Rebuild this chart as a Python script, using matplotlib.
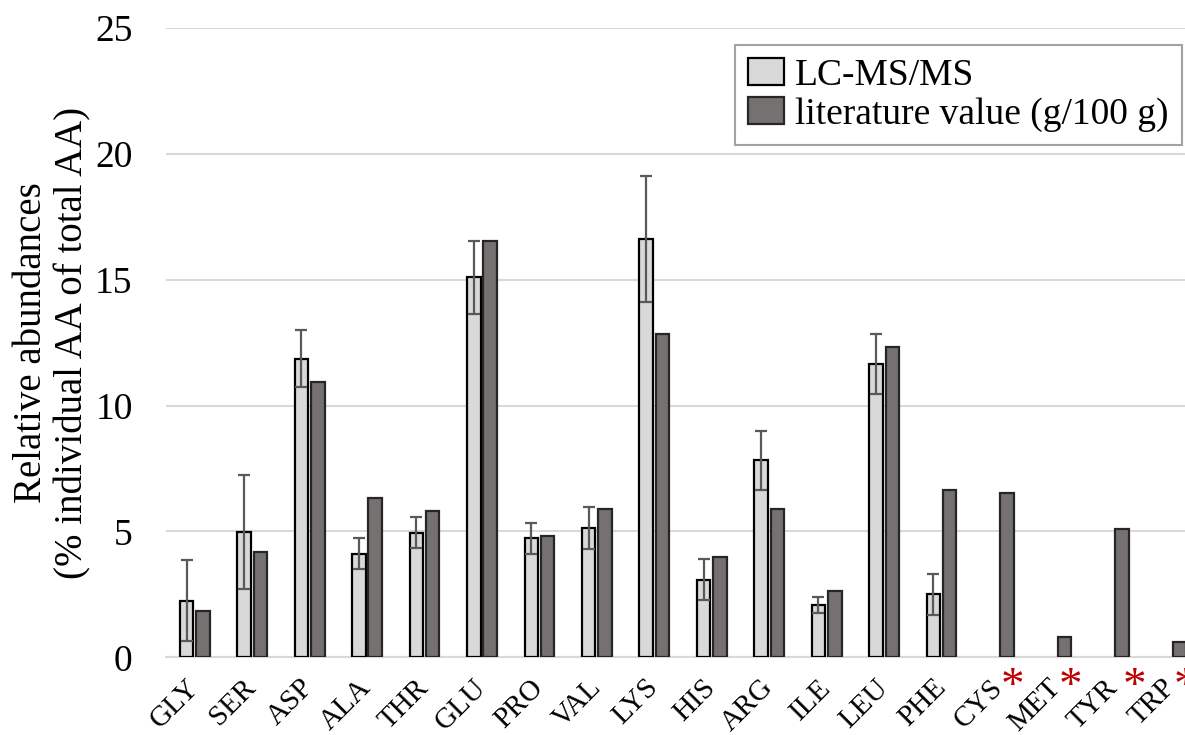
import matplotlib
matplotlib.use("Agg")
import matplotlib.pyplot as plt
from matplotlib.legend_handler import HandlerPatch
from matplotlib.patches import Rectangle
import numpy as np

amino_acids = ["GLY", "SER", "ASP", "ALA", "THR", "GLU", "PRO", "VAL", "LYS",
               "HIS", "ARG", "ILE", "LEU", "PHE", "CYS", "MET", "TYR", "TRP"]
lcms = [2.25, 4.98, 11.87, 4.11, 4.95, 15.09, 4.72, 5.15, 16.63,
        3.08, 7.83, 2.08, 11.67, 2.50, np.nan, np.nan, np.nan, np.nan]
lcms_err = [1.60, 2.27, 1.13, 0.62, 0.62, 1.45, 0.63, 0.83, 2.51,
            0.81, 1.18, 0.31, 1.19, 0.82, np.nan, np.nan, np.nan, np.nan]
literature = [1.84, 4.20, 10.93, 6.31, 5.82, 16.52, 4.81, 5.91, 12.83,
              4.00, 5.91, 2.62, 12.31, 6.63, 6.52, 0.79, 5.11, 0.61]
starred = ["CYS", "MET", "TYR", "TRP"]

plt.rcParams["font.family"] = ["Liberation Serif", "DejaVu Serif"]


def square_handle(legend, orig_handle, xdescent, ydescent, width, height, fontsize):
    # small square sitting at the right end of the handle box
    side = 0.28 * fontsize
    return Rectangle((-xdescent + width - side, -ydescent + (height - side) / 2),
                     side, side)


fig = plt.figure(figsize=(11.85, 7.35), dpi=100)
ax = fig.add_axes([0.1401, 0.1057, 0.8726, 0.8562])

x = np.arange(len(amino_acids))
w = 0.235
off = 0.142

ax.bar(x - off, lcms, w, color="#d9d9d9", edgecolor="black", linewidth=1.6,
       label="LC-MS/MS", zorder=3)
ax.bar(x + off, literature, w, color="#767171", edgecolor="#262626", linewidth=1.6,
       label="literature value (g/100 g)", zorder=3)
ax.errorbar(x - off, lcms, yerr=lcms_err, fmt="none", ecolor="#595959",
            elinewidth=1.6, capsize=4.2, capthick=1.6, zorder=4)

ax.set_xlim(-0.5, len(amino_acids) - 0.5)
ax.set_ylim(0, 25)
ax.set_yticks([0, 5, 10, 15, 20, 25])
ax.yaxis.grid(True, color="#d9d9d9", linewidth=1.5, zorder=0)
ax.set_axisbelow(True)
for s in ["top", "right", "left"]:
    ax.spines[s].set_visible(False)
ax.spines["bottom"].set_color("#d9d9d9")
ax.spines["bottom"].set_linewidth(1.5)
ax.tick_params(axis="both", length=0)
ax.tick_params(axis="y", labelsize=27, pad=24)

ax.set_xticks(x)
ax.set_xticklabels(amino_acids, rotation=45, ha="right", va="center",
                   rotation_mode="anchor", fontsize=21)
ax.tick_params(axis="x", pad=19)

ax.set_ylabel("Relative abundances\n(% individual AA of total AA)", fontsize=28,
              labelpad=3, linespacing=1.15)

# red asterisks after the labels of amino acids without LC-MS/MS data
for i, name in enumerate(amino_acids):
    if name in starred:
        dx = 21 if name == "TYR" else 14
        ax.annotate("*", xy=(i, 0), xytext=(dx, -30), textcoords="offset pixels",
                    ha="center", va="center", color="#c00000", fontsize=34,
                    annotation_clip=False)

leg = ax.legend(loc="upper left", bbox_to_anchor=(735 / 1185, 1 - 45 / 735),
                bbox_transform=fig.transFigure, fontsize=27, frameon=True,
                fancybox=False, handlelength=0.95, handleheight=0.7,
                handletextpad=0.3, labelspacing=0.12, borderpad=0.35,
                borderaxespad=0,
                handler_map={Rectangle: HandlerPatch(patch_func=square_handle)})
leg.get_frame().set_edgecolor("#8c8c8c")
leg.get_frame().set_linewidth(1.5)

fig.savefig("out.png", dpi=100)
